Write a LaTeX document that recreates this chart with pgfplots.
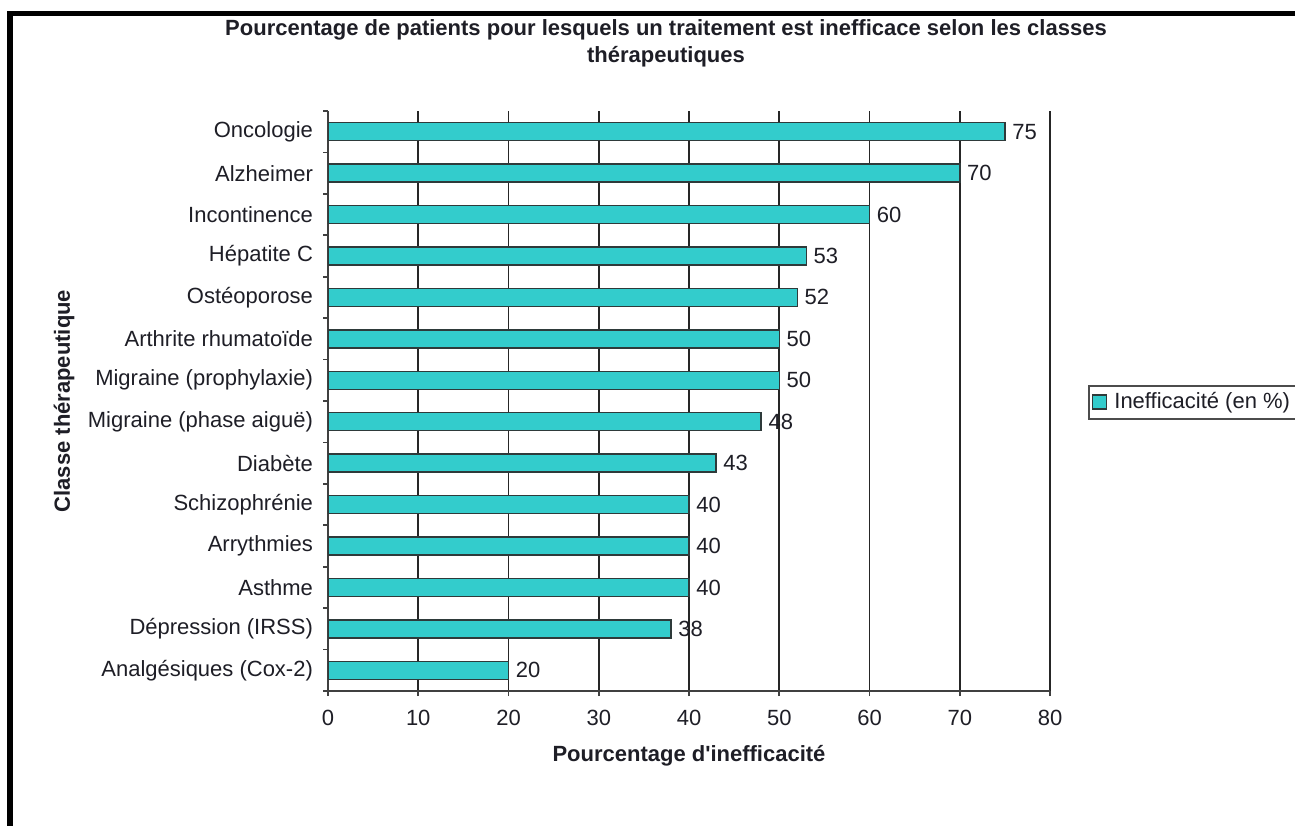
\documentclass[border=0pt]{standalone}
\usepackage{fontspec}
\setmainfont{Liberation Sans}
\usepackage{pgfplots}
\pgfplotsset{compat=1.18}
\definecolor{barfill}{HTML}{33CCCC}
\definecolor{ink}{HTML}{1E1E26}
\definecolor{edge}{HTML}{2E3A3A}
\begin{document}
\begin{tikzpicture}[x=0.5pt,y=0.5pt]
\useasboundingbox (0,0) rectangle (1295,825);
\fill[white] (0,0) rectangle (1295,825);
% page frame (top and left edges)
\draw[line width=2.75pt] (1310,811.5) -- (9.75,811.5) -- (9.75,-20);
% title
\node[font=\fontsize{11}{13.5}\selectfont\bfseries, text=ink, align=center] at (666,781.5)
  {Pourcentage de patients pour lesquels un traitement est inefficace selon les classes\\th\'erapeutiques};
\begin{axis}[
  at={(164pt,67pt)}, anchor=south west,
  scale only axis, width=361pt, height=290pt,
  xbar, bar width=9pt,
  xmin=0, xmax=80, ymin=-0.5, ymax=13.5,
  axis x line*=bottom, axis y line*=left,
  axis line style={draw=black!75, line width=1pt},
  tick align=outside, major tick length=2.5pt,
  tick style={draw=black!75, line width=0.8pt},
  xtick={0,10,...,80},
  xmajorgrids, grid style={draw=black!85, line width=0.9pt},
  ytick={-0.5,0.5,...,13.5},
  y tick label as interval,
  yticklabels={Analgésiques (Cox-2),Dépression (IRSS),Asthme,Arrythmies,Schizophrénie,Diabète,Migraine (phase aiguë),Migraine (prophylaxie),Arthrite rhumatoïde,Ostéoporose,Hépatite C,Incontinence,Alzheimer,Oncologie},
  /pgf/number format/assume math mode=true,
  ticklabel style={font=\fontsize{11}{13}\selectfont, text=ink},
  xticklabel style={yshift=-3.5pt},
  yticklabel style={xshift=-1.5pt},
  xlabel={Pourcentage d\textquotesingle inefficacité},
  ylabel={Classe thérapeutique},
  label style={font=\fontsize{11}{13}\selectfont\bfseries, text=ink},
  xlabel style={at={(axis description cs:0.5,0)}, anchor=center, yshift=-32.5pt},
  ylabel style={at={(axis description cs:0,0.5)}, anchor=center, yshift=132pt},
  nodes near coords,
  nodes near coords style={font=\fontsize{11}{13}\selectfont, text=ink, anchor=west},
  legend style={at={(1.0526,0.498)}, anchor=west, draw=black!70, line width=1pt,
    font=\fontsize{11}{13}\selectfont, text=ink, inner sep=1.5pt},
  legend cell align=left,
]
\addplot[fill=barfill, draw=edge, line width=0.75pt,
  legend image code/.code={\draw[fill=barfill, draw=edge, line width=0.7pt] (0pt,-3.5pt) rectangle (7pt,3.5pt);}]
  coordinates {
    (20,0) (38,1) (40,2) (40,3) (40,4) (43,5) (48,6)
    (50,7) (50,8) (52,9) (53,10) (60,11) (70,12) (75,13)
  };
\addlegendentry{\hspace{1.5pt}Inefficacité (en \%)\hspace{12pt}}
\end{axis}
\end{tikzpicture}
\end{document}
